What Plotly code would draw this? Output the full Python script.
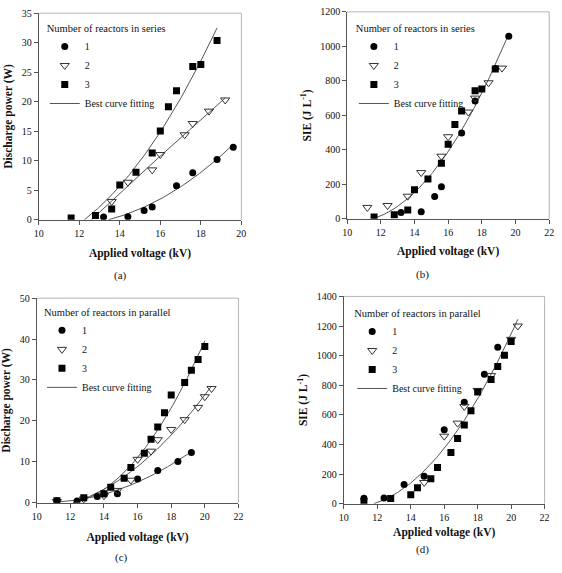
import numpy as np
import plotly.graph_objects as go

FONT = "Liberation Serif"

# ---------------- data ----------------
# (a) discharge power, reactors in series
a_v1 = [13.2, 14.4, 15.2, 15.6, 16.8, 17.6, 18.8, 19.6]
a_p1 = [0.45, 0.5, 1.55, 2.15, 5.75, 7.95, 10.2, 12.3]
a_v2 = [13.6, 14.4, 15.6, 16.0, 17.2, 17.6, 18.4, 19.2]
a_p2 = [3.1, 6.35, 8.45, 11.05, 14.4, 16.3, 18.4, 20.3]
a_v3 = [11.6, 12.8, 13.6, 14.0, 14.8, 15.6, 16.0, 16.4, 16.8, 17.6, 18.0, 18.8]
a_p3 = [0.3, 0.7, 1.8, 5.9, 8.05, 11.3, 15.05, 19.15, 21.85, 25.95, 26.3, 30.35]

# (b) SIE, reactors in series
b_v1 = [13.2, 14.4, 15.2, 15.6, 16.8, 17.6, 18.8, 19.6]
b_s1 = [37, 41, 129, 186, 498, 683, 871, 1058]
b_v2 = [11.2, 12.4, 13.6, 14.4, 15.6, 16.0, 17.2, 17.6, 18.4, 19.2]
b_s2 = [66, 77, 131, 268, 363, 476, 619, 700, 789, 874]
b_v3 = [11.6, 12.8, 13.6, 14.0, 14.8, 15.6, 16.0, 16.4, 16.8, 17.6, 18.0, 18.8]
b_s3 = [11, 23, 51, 168, 231, 322, 432, 547, 625, 742, 753, 869]

# (c) discharge power, reactors in parallel
c_v1 = [11.2, 12.4, 13.6, 14.0, 14.8, 16.0, 17.2, 18.4, 19.2]
c_p1 = [0.5, 0.4, 1.5, 2.2, 2.2, 5.8, 7.9, 10.1, 12.3]
c_v2 = [11.2, 12.8, 14.0, 14.8, 15.6, 16.0, 16.8, 17.2, 18.0, 18.8, 19.6, 20.0, 20.4]
c_p2 = [0.3, 0.9, 1.7, 3.0, 5.5, 10.6, 12.6, 15.4, 17.9, 20.3, 23.3, 25.9, 27.9]
c_v3 = [11.2, 12.8, 14.0, 14.4, 15.2, 15.6, 16.4, 16.8, 17.2, 17.6, 18.0, 18.8, 19.2, 19.6, 20.0]
c_p3 = [0.5, 1.2, 2.2, 3.75, 6.0, 8.6, 12.1, 15.5, 18.5, 22.0, 26.3, 29.4, 32.4, 35.0, 38.2]

# (d) SIE, reactors in parallel
d_v1 = [11.2, 12.4, 13.6, 14.8, 16.0, 17.2, 18.4, 19.2]
d_s1 = [37, 39, 130, 185, 500, 685, 875, 1056]
d_v2 = [14.8, 16.0, 16.8, 17.2, 18.0, 18.8, 20.0, 20.4]
d_s2 = [143, 456, 544, 657, 765, 865, 1110, 1200]
d_v3 = [11.2, 12.8, 14.0, 14.4, 15.2, 15.6, 16.4, 16.8, 17.2, 17.6, 18.0, 18.8, 19.2, 19.6, 20.0]
d_s3 = [15, 35, 61, 108, 168, 245, 346, 441, 531, 628, 754, 838, 926, 1003, 1095]

series_labels = ["1", "2", "3"]
fit_label = "Best curve fitting"
legend_titles = ["Number of reactors in series", "Number of reactors in series",
                 "Number of reactors in parallel", "Number of reactors in parallel"]
captions = ["(a)", "(b)", "(c)", "(d)"]
x_title = "Applied voltage (kV)"
y_titles = ["Discharge power (W)", "SIE (J L<sup>-1</sup>)",
            "Discharge power (W)", "SIE (J L<sup>-1</sup>)"]

# ---------------- helpers ----------------
def fit_line(xs, ys, x_end):
    xs = np.asarray(xs, float)
    ys = np.asarray(ys, float)
    c = np.polyfit(xs, ys, 2)
    r = np.roots(c)
    r = r[np.isreal(r)].real
    r = r[(r < x_end) & (r > xs.min() - 1.5)]
    if len(r):
        x0 = r.max()
    else:
        vx = -c[1] / (2 * c[0])
        x0 = max(xs.min(), vx)
    xx = np.linspace(x0, x_end, 160)
    return xx, np.polyval(c, xx)

MK = [dict(symbol="circle", size=7, color="black"),
      dict(symbol="triangle-down-open", size=8, color="#333", line=dict(width=1, color="#333")),
      dict(symbol="square", size=7, color="black")]

fig = go.Figure()

panels = [
    dict(v=[a_v1, a_v2, a_v3], y=[a_p1, a_p2, a_p3], per_series=True),
    dict(v=[b_v1, b_v2, b_v3], y=[b_s1, b_s2, b_s3], per_series=False),
    dict(v=[c_v1, c_v2, c_v3], y=[c_p1, c_p2, c_p3], per_series=True),
    dict(v=[d_v1, d_v2, d_v3], y=[d_s1, d_s2, d_s3], per_series=False),
]

for i, p in enumerate(panels):
    k = "" if i == 0 else str(i + 1)
    xa, ya, lg = "x" + k, "y" + k, "legend" + k
    if p["per_series"]:
        groups = list(zip(p["v"], p["y"]))
    else:
        allv = sum(p["v"], [])
        ally = sum(p["y"], [])
        groups = [(allv, ally)]
    for j, (vs, ys) in enumerate(groups):
        xx, yy = fit_line(vs, ys, max(vs))
        fig.add_trace(go.Scatter(x=xx, y=yy, mode="lines", xaxis=xa, yaxis=ya,
                                 line=dict(color="#555", width=1),
                                 name=fit_label, showlegend=(j == 0), legend=lg,
                                 legendrank=4, hoverinfo="skip"))
    for j in range(3):
        fig.add_trace(go.Scatter(x=p["v"][j], y=p["y"][j], mode="markers",
                                 xaxis=xa, yaxis=ya, marker=MK[j],
                                 name=series_labels[j], legend=lg, legendrank=j + 1))

domains = [
    ([0.0611, 0.4282], [0.6190, 0.9872]),
    ([0.6198, 0.9858], [0.6207, 0.9895]),
    ([0.0575, 0.4229], [0.1146, 0.4793]),
    ([0.6139, 0.9775], [0.1129, 0.4823]),
]
xranges = [[10, 20], [10, 22], [10, 22], [10, 22]]
yranges = [[0, 35], [0, 1200], [0, 50], [0, 1400]]
ydticks = [5, 200, 10, 200]
x_standoff = [11, 10, 12, 6]

tickfont = dict(family=FONT, size=10, color="#111")
titlefont = dict(family=FONT, size=11.5, color="#111")

layout = dict(width=562, height=573, margin=dict(l=0, r=0, t=0, b=0),
              paper_bgcolor="white", plot_bgcolor="white", showlegend=True)

leg_pos = [(0.072, 0.978), (0.632, 0.978), (0.067, 0.472), (0.629, 0.470)]
cap_pos = [(118, 275), (425, 274), (119, 563), (425, 555)]

shapes = []
annotations = []
for i in range(4):
    k = "" if i == 0 else str(i + 1)
    common = dict(showgrid=False, zeroline=False, showline=True, linecolor="#555",
                  linewidth=1, ticks="outside", ticklen=4, tickcolor="#555",
                  tickfont=tickfont, fixedrange=True)
    layout["xaxis" + k] = dict(domain=domains[i][0], range=xranges[i], dtick=2,
                               anchor="y" + k,
                               title=dict(text="<b>" + x_title + "</b>", font=titlefont,
                                          standoff=x_standoff[i]),
                               **common)
    layout["yaxis" + k] = dict(domain=domains[i][1], range=yranges[i], dtick=ydticks[i],
                               anchor="x" + k,
                               title=dict(text="<b>" + y_titles[i] + "</b>", font=titlefont, standoff=6),
                               **common)
    layout["legend" + k] = dict(x=leg_pos[i][0], y=leg_pos[i][1], xanchor="left", yanchor="top",
                                bgcolor="rgba(0,0,0,0)", font=dict(family=FONT, size=10, color="#111"),
                                title=dict(text=legend_titles[i], font=dict(family=FONT, size=10.5, color="#111")),
                                tracegroupgap=0, itemwidth=30)
    xd, yd = ("x" + k + " domain"), ("y" + k + " domain")
    shapes.append(dict(type="line", xref=xd, yref=yd, x0=0, x1=1, y0=1, y1=1,
                       line=dict(color="#b5b5b5", width=1)))
    shapes.append(dict(type="line", xref=xd, yref=yd, x0=1, x1=1, y0=0, y1=1,
                       line=dict(color="#b5b5b5", width=1)))
    annotations.append(dict(text=captions[i], xref="paper", yref="paper",
                            x=cap_pos[i][0] / 562, y=1 - cap_pos[i][1] / 573,
                            showarrow=False, xanchor="center", yanchor="middle",
                            font=dict(family=FONT, size=11, color="#111")))

layout["shapes"] = shapes
layout["annotations"] = annotations
fig.update_layout(**layout)
fig.write_html("out.html")
